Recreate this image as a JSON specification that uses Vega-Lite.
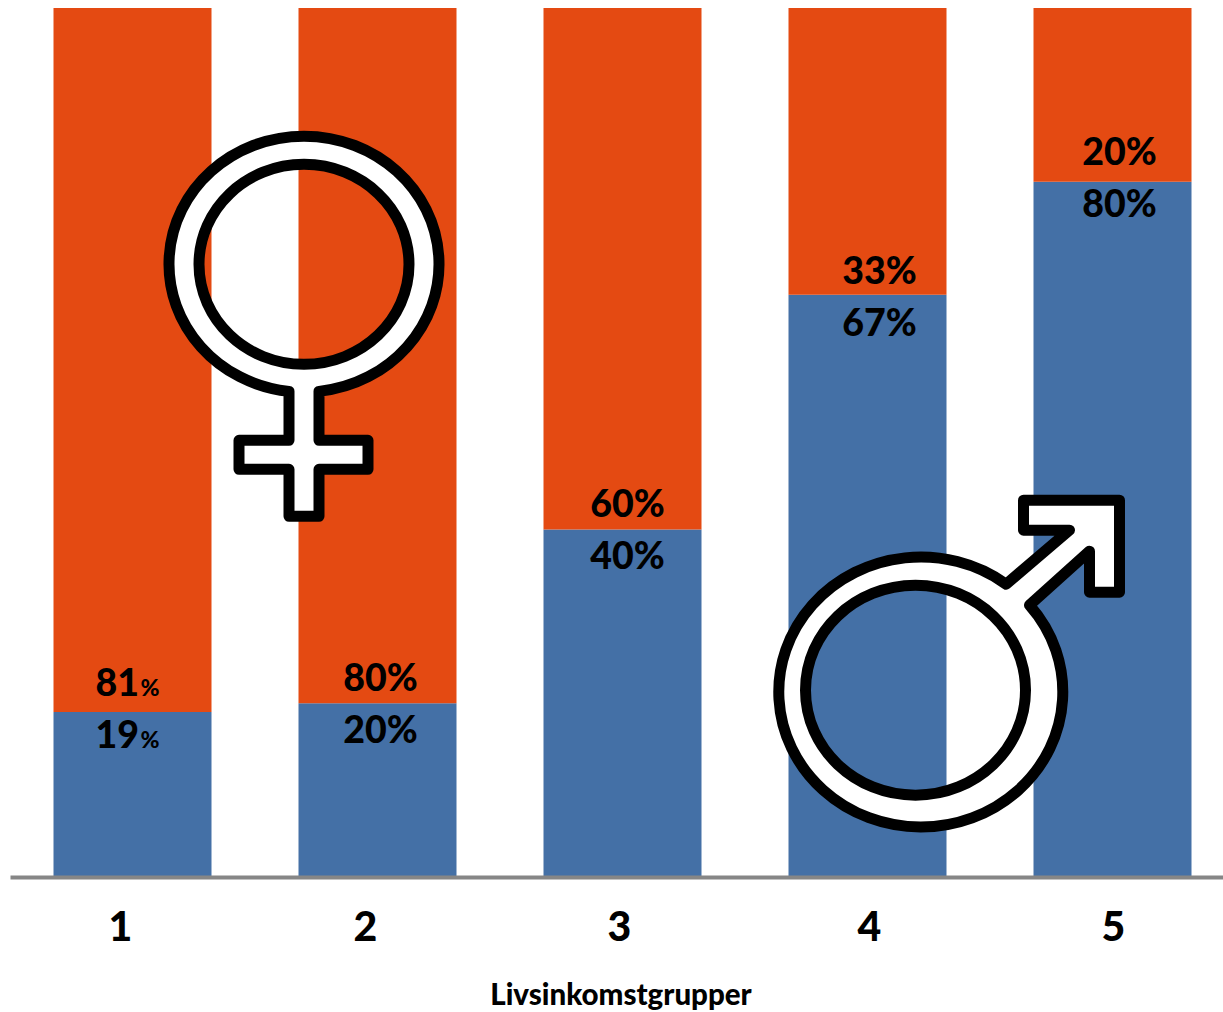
{
  "$schema": "https://vega.github.io/schema/vega-lite/v6.json",
  "autosize": "none",
  "width": 1213,
  "height": 869,
  "padding": {"left": 10, "top": 8, "right": 0, "bottom": 135},
  "background": "white",
  "config": {"view": {"stroke": null}},
  "data": {"values": [
    {"gruppe": "1", "mann": 19, "kvinne": 81},
    {"gruppe": "2", "mann": 20, "kvinne": 80},
    {"gruppe": "3", "mann": 40, "kvinne": 60},
    {"gruppe": "4", "mann": 67, "kvinne": 33},
    {"gruppe": "5", "mann": 80, "kvinne": 20}
  ]},
  "encoding": {
    "x": {
      "field": "gruppe",
      "type": "ordinal",
      "title": "Livsinkomstgrupper",
      "scale": {"range": [0, 1225], "paddingInner": 0.355, "paddingOuter": 0.1775},
      "axis": {
        "zindex": 1,
        "labelAngle": 0,
        "labelFont": "Lato",
        "labelFontWeight": 900,
        "labelFontSize": 41,
        "labelColor": "black",
        "labelPadding": 31,
        "labelOffset": {"expr": "{'1': -12, '2': -12, '3': -3, '4': 2, '5': 1}[datum.value]"},
        "ticks": false,
        "domainColor": "#868686",
        "domainWidth": 4,
        "titleFont": "Lato",
        "titleFontWeight": 900,
        "titleFontSize": 29.5,
        "titleColor": "black",
        "titlePadding": 33,
        "titleX": 610.5
      }
    }
  },
  "layer": [
    {
      "transform": [
        {"fold": ["mann", "kvinne"], "as": ["kjonn", "andel"]},
        {"calculate": "datum.kjonn == 'mann' ? 0 : 1", "as": "rekkefolge"}
      ],
      "mark": {"type": "bar", "width": 158},
      "encoding": {
        "y": {"field": "andel", "type": "quantitative", "stack": "zero", "scale": {"domain": [0, 100]}, "axis": null},
        "color": {
          "field": "kjonn",
          "type": "nominal",
          "scale": {"domain": ["mann", "kvinne"], "range": ["#4470A6", "#E44A12"]},
          "legend": null
        },
        "order": {"field": "rekkefolge", "type": "quantitative"}
      }
    },
    {
      "transform": [
        {"filter": "datum.gruppe != '1'"},
        {"fold": ["mann", "kvinne"], "as": ["kjonn", "andel"]},
        {"calculate": "datum.andel + '%'", "as": "etikett"}
      ],
      "mark": {
        "type": "text",
        "font": "Lato",
        "fontWeight": 900,
        "fontSize": 37.5,
        "color": "black",
        "baseline": "middle",
        "xOffset": {"expr": "{'2': 3, '3': 5, '4': 12, '5': 7}[datum.gruppe]"},
        "yOffset": {"expr": "(datum.kjonn == 'mann' ? 26 : -26) + {'2': 3, '3': 3, '4': 4, '5': -2}[datum.gruppe]"}
      },
      "encoding": {
        "y": {"field": "mann", "type": "quantitative", "axis": null},
        "text": {"field": "etikett"}
      }
    },
    {
      "transform": [
        {"filter": "datum.gruppe == '1'"},
        {"fold": ["mann", "kvinne"], "as": ["kjonn", "andel"]}
      ],
      "mark": {
        "type": "text",
        "font": "Lato",
        "fontWeight": 900,
        "fontSize": 37.5,
        "color": "black",
        "align": "right",
        "baseline": "middle",
        "xOffset": 6.5,
        "yOffset": {"expr": "datum.kjonn == 'mann' ? 25 : -27"}
      },
      "encoding": {
        "y": {"field": "mann", "type": "quantitative", "axis": null},
        "text": {"field": "andel", "type": "quantitative", "format": "d"}
      }
    },
    {
      "transform": [
        {"filter": "datum.gruppe == '1'"},
        {"fold": ["mann", "kvinne"], "as": ["kjonn", "andel"]},
        {"calculate": "'%'", "as": "tegn"}
      ],
      "mark": {
        "type": "text",
        "font": "Lato",
        "fontWeight": 900,
        "fontSize": 23,
        "color": "black",
        "align": "left",
        "baseline": "middle",
        "xOffset": 8,
        "yOffset": {"expr": "datum.kjonn == 'mann' ? 29 : -23"}
      },
      "encoding": {
        "y": {"field": "mann", "type": "quantitative", "axis": null},
        "text": {"field": "tegn"}
      }
    },
    {
      "data": {"values": [{"gruppe": "2", "plass": 70.5}]},
      "mark": {
        "type": "point",
        "filled": true,
        "fill": "white",
        "stroke": "black",
        "strokeWidth": 11,
        "strokeJoin": "round",
        "opacity": 1,
        "size": 4,
        "xOffset": -73.5,
        "shape": "M-15,127 A135,128 0 1 1 15,127 L15,176 L64,176 L64,205 L15,205 L15,252 L-15,252 L-15,205 L-65,205 L-65,176 L-15,176 Z M105,0 A105,100 0 1 0 -105,0 A105,100 0 1 0 105,0 Z"
      },
      "encoding": {
        "y": {"field": "plass", "type": "quantitative", "axis": null}
      }
    },
    {
      "data": {"values": [{"gruppe": "4", "plass": 21.5}]},
      "mark": {
        "type": "point",
        "filled": true,
        "fill": "white",
        "stroke": "black",
        "strokeWidth": 11,
        "strokeJoin": "round",
        "opacity": 1,
        "size": 4,
        "xOffset": 48,
        "shape": "M114,-85 A142,135 0 1 1 90.7,-106 L154,-160 L108,-160 L108,-190 L204,-190 L204,-98 L174,-98 L174,-139 Z M110,0 A110,105 0 1 0 -110,0 A110,105 0 1 0 110,0 Z"
      },
      "encoding": {
        "y": {"field": "plass", "type": "quantitative", "axis": null}
      }
    }
  ]
}
